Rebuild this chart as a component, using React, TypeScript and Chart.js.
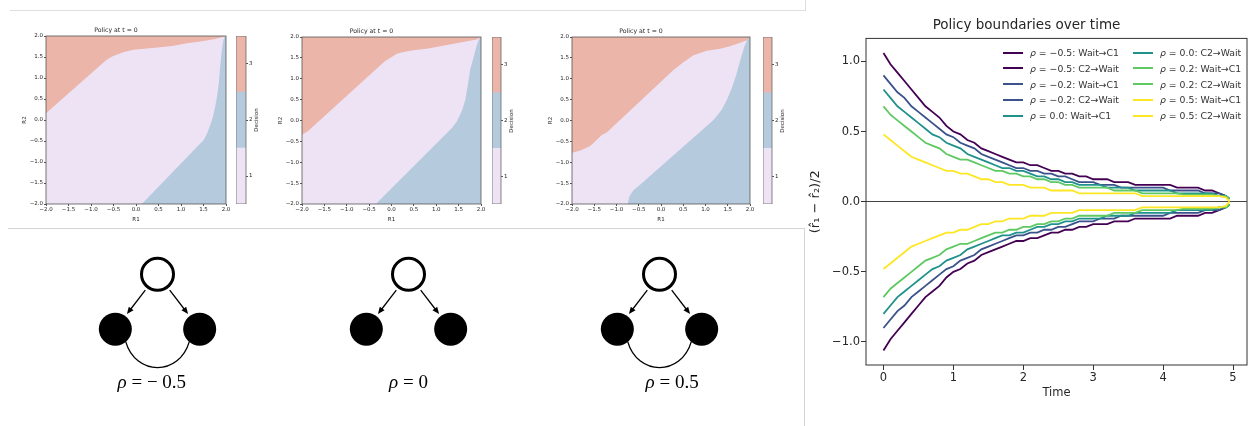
import React, { useEffect, useRef } from "react";
import { Chart, registerables } from "chart.js";

Chart.register(...registerables);

// ===================== Right panel: policy boundaries over time =====================
const TIME = [
  0, 0.1, 0.2, 0.3, 0.4, 0.5, 0.6, 0.7, 0.8, 0.9,
  1.0, 1.1, 1.2, 1.3, 1.4, 1.5, 1.6, 1.7, 1.8, 1.9,
  2.0, 2.1, 2.2, 2.3, 2.4, 2.5, 2.6, 2.7, 2.8, 2.9,
  3.0, 3.1, 3.2, 3.3, 3.4, 3.5, 3.6, 3.7, 3.8, 3.9,
  4.0, 4.1, 4.2, 4.3, 4.4, 4.5, 4.6, 4.7, 4.8, 4.9,
  4.95,
];
const RHO_VALUES = [-0.5, -0.2, 0.0, 0.2, 0.5];
const RHO_COLORS = ["#440154", "#3b528b", "#21918c", "#5ec962", "#fde725"];
const BOUNDARY_NAMES = ["Wait→C1", "C2→Wait"];

const M05_WAIT_C1 = [
  1.06, 0.98, 0.92, 0.86, 0.80, 0.74, 0.68, 0.64, 0.60, 0.54,
  0.50, 0.48, 0.44, 0.42, 0.38, 0.36, 0.34, 0.32, 0.30, 0.28,
  0.28, 0.26, 0.26, 0.24, 0.22, 0.22, 0.20, 0.20, 0.18, 0.18,
  0.16, 0.16, 0.16, 0.14, 0.14, 0.14, 0.12, 0.12, 0.12, 0.12,
  0.12, 0.12, 0.10, 0.10, 0.10, 0.10, 0.08, 0.08, 0.06, 0.04,
  0.02,
];
const M05_C2_WAIT = [
  -1.06, -0.98, -0.92, -0.86, -0.80, -0.74, -0.68, -0.64, -0.60, -0.54,
  -0.50, -0.48, -0.44, -0.42, -0.38, -0.36, -0.34, -0.32, -0.30, -0.28,
  -0.28, -0.26, -0.26, -0.24, -0.22, -0.22, -0.20, -0.20, -0.18, -0.18,
  -0.16, -0.16, -0.16, -0.14, -0.14, -0.14, -0.12, -0.12, -0.12, -0.12,
  -0.12, -0.12, -0.10, -0.10, -0.10, -0.10, -0.08, -0.08, -0.06, -0.04,
  -0.02,
];
const M02_WAIT_C1 = [
  0.90, 0.84, 0.78, 0.74, 0.68, 0.64, 0.60, 0.56, 0.52, 0.48,
  0.46, 0.42, 0.40, 0.38, 0.34, 0.32, 0.30, 0.28, 0.26, 0.24,
  0.24, 0.22, 0.22, 0.20, 0.20, 0.18, 0.18, 0.16, 0.14, 0.14,
  0.14, 0.12, 0.12, 0.12, 0.10, 0.10, 0.10, 0.10, 0.10, 0.10,
  0.10, 0.08, 0.08, 0.08, 0.08, 0.08, 0.06, 0.06, 0.06, 0.04,
  0.02,
];
const M02_C2_WAIT = [
  -0.90, -0.84, -0.78, -0.74, -0.68, -0.64, -0.60, -0.56, -0.52, -0.48,
  -0.46, -0.42, -0.40, -0.38, -0.34, -0.32, -0.30, -0.28, -0.26, -0.24,
  -0.24, -0.22, -0.22, -0.20, -0.20, -0.18, -0.18, -0.16, -0.14, -0.14,
  -0.14, -0.12, -0.12, -0.12, -0.10, -0.10, -0.10, -0.10, -0.10, -0.10,
  -0.10, -0.08, -0.08, -0.08, -0.08, -0.08, -0.06, -0.06, -0.06, -0.04,
  -0.02,
];
const P00_WAIT_C1 = [
  0.80, 0.74, 0.68, 0.64, 0.60, 0.56, 0.52, 0.48, 0.46, 0.42,
  0.40, 0.38, 0.34, 0.32, 0.30, 0.28, 0.26, 0.24, 0.24, 0.22,
  0.22, 0.20, 0.18, 0.18, 0.16, 0.16, 0.14, 0.14, 0.12, 0.12,
  0.12, 0.12, 0.10, 0.10, 0.10, 0.10, 0.08, 0.08, 0.08, 0.08,
  0.08, 0.08, 0.06, 0.06, 0.06, 0.06, 0.06, 0.06, 0.04, 0.04,
  0.02,
];
const P00_C2_WAIT = [
  -0.80, -0.74, -0.68, -0.64, -0.60, -0.56, -0.52, -0.48, -0.46, -0.42,
  -0.40, -0.38, -0.34, -0.32, -0.30, -0.28, -0.26, -0.24, -0.24, -0.22,
  -0.22, -0.20, -0.18, -0.18, -0.16, -0.16, -0.14, -0.14, -0.12, -0.12,
  -0.12, -0.12, -0.10, -0.10, -0.10, -0.10, -0.08, -0.08, -0.08, -0.08,
  -0.08, -0.08, -0.06, -0.06, -0.06, -0.06, -0.06, -0.06, -0.04, -0.04,
  -0.02,
];
const P02_WAIT_C1 = [
  0.68, 0.62, 0.58, 0.54, 0.50, 0.46, 0.42, 0.40, 0.38, 0.34,
  0.32, 0.30, 0.30, 0.28, 0.26, 0.24, 0.22, 0.22, 0.20, 0.20,
  0.18, 0.18, 0.16, 0.16, 0.14, 0.14, 0.12, 0.12, 0.10, 0.10,
  0.10, 0.10, 0.10, 0.08, 0.08, 0.08, 0.08, 0.06, 0.06, 0.06,
  0.06, 0.06, 0.06, 0.05, 0.05, 0.05, 0.05, 0.05, 0.04, 0.04,
  0.02,
];
const P02_C2_WAIT = [
  -0.68, -0.62, -0.58, -0.54, -0.50, -0.46, -0.42, -0.40, -0.38, -0.34,
  -0.32, -0.30, -0.30, -0.28, -0.26, -0.24, -0.22, -0.22, -0.20, -0.20,
  -0.18, -0.18, -0.16, -0.16, -0.14, -0.14, -0.12, -0.12, -0.10, -0.10,
  -0.10, -0.10, -0.10, -0.08, -0.08, -0.08, -0.08, -0.06, -0.06, -0.06,
  -0.06, -0.06, -0.06, -0.05, -0.05, -0.05, -0.05, -0.05, -0.04, -0.04,
  -0.02,
];
const P05_WAIT_C1 = [
  0.48, 0.44, 0.40, 0.36, 0.32, 0.30, 0.28, 0.26, 0.24, 0.22,
  0.22, 0.20, 0.20, 0.18, 0.16, 0.16, 0.14, 0.14, 0.12, 0.12,
  0.12, 0.10, 0.10, 0.10, 0.08, 0.08, 0.08, 0.08, 0.06, 0.06,
  0.06, 0.06, 0.06, 0.06, 0.06, 0.06, 0.06, 0.04, 0.04, 0.04,
  0.04, 0.04, 0.04, 0.04, 0.04, 0.04, 0.04, 0.04, 0.04, 0.03,
  0.00,
];
const P05_C2_WAIT = [
  -0.48, -0.44, -0.40, -0.36, -0.32, -0.30, -0.28, -0.26, -0.24, -0.22,
  -0.22, -0.20, -0.20, -0.18, -0.16, -0.16, -0.14, -0.14, -0.12, -0.12,
  -0.12, -0.10, -0.10, -0.10, -0.08, -0.08, -0.08, -0.08, -0.06, -0.06,
  -0.06, -0.06, -0.06, -0.06, -0.06, -0.06, -0.06, -0.04, -0.04, -0.04,
  -0.04, -0.04, -0.04, -0.04, -0.04, -0.04, -0.04, -0.04, -0.04, -0.03,
  0.00,
];
// per rho: [Wait→C1, C2→Wait]
const RHO_SERIES = [
  [M05_WAIT_C1, M05_C2_WAIT],
  [M02_WAIT_C1, M02_C2_WAIT],
  [P00_WAIT_C1, P00_C2_WAIT],
  [P02_WAIT_C1, P02_C2_WAIT],
  [P05_WAIT_C1, P05_C2_WAIT],
];
const TIME_TICKS = [0, 1, 2, 3, 4, 5];
const VALUE_TICKS = [-1.0, -0.5, 0.0, 0.5, 1.0];

// ===================== Left panel: policy heatmaps =====================
const GRID_TICKS = [-2.0, -1.5, -1.0, -0.5, 0.0, 0.5, 1.0, 1.5, 2.0];
const DECISION_LEVELS = [1, 2, 3];
const DECISION_BOUNDS = [0.5, 1.5, 2.5, 3.5];
const DECISION_COLORS = ["#ede3f4", "#b6cade", "#ebb5aa"];

// rho = -0.5
const HM1_TOP_X = [-2.0, -0.66, -0.53, -0.42, -0.27, -0.05, 0.24, 0.54, 0.84, 1.13, 1.43, 1.73, 1.91, 2.0];
const HM1_TOP_Y = [0.16, 1.43, 1.51, 1.56, 1.62, 1.67, 1.70, 1.73, 1.77, 1.83, 1.87, 1.92, 1.97, 2.0];
const HM1_BOT_X = [0.13, 1.39, 1.50, 1.58, 1.65, 1.71, 1.76, 1.80, 1.84, 1.87, 1.90, 1.93, 1.95, 1.96, 2.0];
const HM1_BOT_Y = [-2.0, -0.60, -0.48, -0.32, -0.12, 0.08, 0.32, 0.56, 0.87, 1.27, 1.59, 1.83, 1.92, 1.97, 2.0];
// rho = 0
const HM2_TOP_X = [-2.0, -1.87, -0.15, -0.03, 0.12, 0.27, 0.49, 0.79, 1.09, 1.39, 1.69, 1.91, 2.0];
const HM2_TOP_Y = [-0.34, -0.26, 1.42, 1.50, 1.60, 1.64, 1.68, 1.72, 1.78, 1.84, 1.90, 1.94, 2.0];
const HM2_BOT_X = [-0.35, 1.20, 1.35, 1.46, 1.57, 1.65, 1.70, 1.76, 1.84, 1.90, 1.95, 2.0];
const HM2_BOT_Y = [-2.0, -0.34, -0.18, -0.02, 0.22, 0.50, 0.82, 1.22, 1.54, 1.78, 1.94, 2.0];
// rho = 0.5
const HM3_TOP_X = [-2.0, -1.81, -1.59, -1.33, -1.22, 0.28, 0.51, 0.73, 1.03, 1.33, 1.55, 1.78, 1.93, 2.0];
const HM3_TOP_Y = [-0.77, -0.72, -0.61, -0.35, -0.29, 1.21, 1.40, 1.56, 1.67, 1.72, 1.78, 1.86, 1.92, 2.0];
const HM3_BOT_X = [-0.75, -0.71, -0.62, -0.47, 1.18, 1.36, 1.48, 1.59, 1.69, 1.78, 1.87, 1.94, 2.0];
const HM3_BOT_Y = [-2.0, -1.82, -1.67, -1.54, 0.01, 0.25, 0.49, 0.77, 1.09, 1.44, 1.76, 1.94, 2.0];

const HM_PANELS = [
  { topX: HM1_TOP_X, topY: HM1_TOP_Y, botX: HM1_BOT_X, botY: HM1_BOT_Y },
  { topX: HM2_TOP_X, topY: HM2_TOP_Y, botX: HM2_BOT_X, botY: HM2_BOT_Y },
  { topX: HM3_TOP_X, topY: HM3_TOP_Y, botX: HM3_BOT_X, botY: HM3_BOT_Y },
];

// ===================== Left panel: graph diagrams =====================
const GRAPH_RHO = [-0.5, 0, 0.5];
const GRAPH_SLOTS = [0.5, 1.5, 2.5];
const PARENT_LEVEL = 1;
const CHILD_LEVEL = 0;
const CHILD_SPREAD = [-0.168, 0.168];

// ===================== layout (positions, not data) =====================
const HM_LAYOUT = [
  { left: 46, right: 226, top: 36, bottom: 204, cbLeft: 236, cbRight: 246 },
  { left: 302, right: 481, top: 37, bottom: 204, cbLeft: 492, cbRight: 501 },
  { left: 572, right: 750, top: 37, bottom: 204, cbLeft: 763, cbRight: 772 },
];
const GRAPH_BOX = { left: 13, top: 229, width: 791, height: 197 };
const GRAPH_LABEL_DX = [7, 0, 0];
const MAIN_BOX = { left: 806, top: 0, width: 449, height: 426 };

const MINUS = "\u2212";
const fmt = (v: number, d: number) => (v < 0 ? MINUS : "") + Math.abs(v).toFixed(d);

const TEXT = "#262626";
const SPINE = "#333333";

// ---------- plugins ----------
const framePlugin = {
  id: "frame",
  afterDatasetsDraw(chart: any, _args: any, opts: any) {
    if (!opts || !opts.color) return;
    const { ctx, chartArea: a } = chart;
    ctx.save();
    ctx.strokeStyle = opts.color;
    ctx.lineWidth = opts.width || 1;
    ctx.strokeRect(a.left, a.top, a.right - a.left, a.bottom - a.top);
    ctx.restore();
  },
};
const areaFillPlugin = {
  id: "areaFill",
  beforeDraw(chart: any, _args: any, opts: any) {
    if (!opts || !opts.color) return;
    const { ctx, chartArea: a } = chart;
    ctx.save();
    ctx.fillStyle = opts.color;
    ctx.fillRect(a.left, a.top, a.right - a.left, a.bottom - a.top);
    ctx.restore();
  },
};
const graphEdgesPlugin = {
  id: "graphEdges",
  beforeDatasetsDraw(chart: any) {
    const xs = chart.scales.x;
    const ys = chart.scales.y;
    const ctx = chart.ctx;
    ctx.save();
    ctx.strokeStyle = "#000";
    ctx.fillStyle = "#000";
    ctx.lineWidth = 1.3;
    GRAPH_SLOTS.forEach((slot, i) => {
      const top = { x: xs.getPixelForValue(slot), y: ys.getPixelForValue(PARENT_LEVEL) };
      const kids = CHILD_SPREAD.map((o) => ({ x: xs.getPixelForValue(slot + o), y: ys.getPixelForValue(CHILD_LEVEL) }));
      kids.forEach((k) => {
        const dx = k.x - top.x;
        const dy = k.y - top.y;
        const len = Math.hypot(dx, dy);
        const ux = dx / len;
        const uy = dy / len;
        const sx = top.x + ux * 20;
        const sy = top.y + uy * 20;
        const ex = k.x - ux * 19;
        const ey = k.y - uy * 19;
        const head = 7;
        const half = 3;
        ctx.beginPath();
        ctx.moveTo(sx, sy);
        ctx.lineTo(ex - ux * head * 0.6, ey - uy * head * 0.6);
        ctx.stroke();
        ctx.beginPath();
        ctx.moveTo(ex, ey);
        ctx.lineTo(ex - ux * head - uy * half, ey - uy * head + ux * half);
        ctx.lineTo(ex - ux * head + uy * half, ey - uy * head - ux * half);
        ctx.closePath();
        ctx.fill();
      });
      if (GRAPH_RHO[i] !== 0) {
        const L = kids[0];
        const R = kids[1];
        const r = 16;
        const c = Math.cos((50 * Math.PI) / 180);
        const s = Math.sin((50 * Math.PI) / 180);
        const p0x = L.x + r * c, p0y = L.y + r * s;
        const p3x = R.x - r * c, p3y = R.y + r * s;
        ctx.beginPath();
        ctx.moveTo(p0x, p0y);
        ctx.bezierCurveTo(p0x + 10, p0y + 35, p3x - 10, p3y + 35, p3x, p3y);
        ctx.stroke();
      }
    });
    ctx.restore();
  },
};

// ---------- configs ----------
function mainConfig() {
  const datasets: any[] = [];
  RHO_VALUES.forEach((rho, r) => {
    RHO_SERIES[r].forEach((vals, b) => {
      const idx = datasets.length;
      datasets.push({
        label: `ρ = ${fmt(rho, 1)}: ${BOUNDARY_NAMES[b]}`,
        data: TIME.map((t, k) => ({ x: t, y: vals[k] })),
        borderColor: RHO_COLORS[r],
        backgroundColor: RHO_COLORS[r],
        borderWidth: 1.8,
        pointRadius: 0,
        fill: false,
        tension: 0,
        order: -idx,
      });
    });
  });
  const tickFont = { family: "DejaVu Sans", size: 11.5 };
  return {
    type: "line",
    data: { datasets },
    options: {
      responsive: false,
      animation: false,
      devicePixelRatio: 1,
      events: [],
      layout: { padding: { left: 0, right: 8, top: 0, bottom: 0 } },
      plugins: {
        legend: { display: false },
        tooltip: { enabled: false },
        title: {
          display: true,
          text: "Policy boundaries over time",
          color: TEXT,
          font: { family: "DejaVu Sans", size: 13.5, weight: "normal" },
          padding: { top: 17.6, bottom: 4.6 },
        },
        frame: { color: SPINE, width: 1 },
      },
      scales: {
        x: {
          type: "linear",
          min: -0.25,
          max: 5.2,
          afterBuildTicks: (s: any) => {
            s.ticks = TIME_TICKS.map((v) => ({ value: v }));
          },
          ticks: { font: tickFont, color: TEXT, padding: 1, maxRotation: 0, autoSkip: false, callback: (v: any) => String(v) },
          grid: { drawOnChartArea: false, drawTicks: true, tickLength: 5, color: SPINE, tickColor: SPINE },
          border: { display: false },
          title: { display: true, text: "Time", color: TEXT, font: tickFont, padding: { top: 0, bottom: 25.8 } },
          afterFit: (s: any) => {
            s.height = 61;
            s.paddingLeft = 0;
            s.paddingRight = 0;
          },
        },
        y: {
          type: "linear",
          min: -1.164,
          max: 1.164,
          afterBuildTicks: (s: any) => {
            s.ticks = VALUE_TICKS.map((v) => ({ value: v }));
          },
          ticks: { font: tickFont, color: TEXT, padding: 1, autoSkip: false, callback: (v: any) => fmt(Number(v), 1) },
          grid: {
            drawOnChartArea: true,
            drawTicks: true,
            tickLength: 5,
            tickColor: SPINE,
            lineWidth: 1,
            color: (ctx: any) => (ctx.tick && ctx.tick.value === 0 ? "#444444" : "rgba(0,0,0,0)"),
          },
          border: { display: false },
          title: {
            display: true,
            text: "(r̂₁ − r̂₂)/2",
            color: TEXT,
            font: { family: "DejaVu Sans", size: 13 },
            padding: { top: 2.2, bottom: 2.2 },
          },
          afterFit: (s: any) => {
            s.width = 60;
            s.paddingTop = 0;
            s.paddingBottom = 0;
          },
        },
      },
    },
    plugins: [framePlugin],
  };
}

const SMALL_FONT = { family: "DejaVu Sans", size: 5.5 };

function heatmapConfig(i: number) {
  const p = HM_PANELS[i];
  return {
    type: "line",
    data: {
      datasets: [
        {
          label: "Decision 3",
          data: p.topX.map((x, k) => ({ x, y: p.topY[k] })),
          fill: "end",
          backgroundColor: DECISION_COLORS[2],
          borderColor: "rgba(0,0,0,0)",
          borderWidth: 0,
          pointRadius: 0,
          tension: 0,
        },
        {
          label: "Decision 2",
          data: p.botX.map((x, k) => ({ x, y: p.botY[k] })),
          fill: "start",
          backgroundColor: DECISION_COLORS[1],
          borderColor: "rgba(0,0,0,0)",
          borderWidth: 0,
          pointRadius: 0,
          tension: 0,
        },
      ],
    },
    options: {
      responsive: false,
      animation: false,
      devicePixelRatio: 1,
      events: [],
      layout: { padding: { left: 0, right: 8, top: 0, bottom: 0 } },
      plugins: {
        legend: { display: false },
        tooltip: { enabled: false },
        title: {
          display: true,
          text: "Policy at t = 0",
          color: TEXT,
          font: { family: "DejaVu Sans", size: 6.2, weight: "normal" },
          padding: { top: 8.3, bottom: 2.26 },
        },
        areaFill: { color: DECISION_COLORS[0] },
        frame: { color: "#555555", width: 0.8 },
      },
      scales: {
        x: {
          type: "linear",
          min: -2,
          max: 2,
          afterBuildTicks: (s: any) => {
            s.ticks = GRID_TICKS.map((v) => ({ value: v }));
          },
          ticks: { font: SMALL_FONT, color: TEXT, padding: 0, maxRotation: 0, autoSkip: false, callback: (v: any) => fmt(Number(v), 1) },
          grid: { drawOnChartArea: false, drawTicks: true, tickLength: 2, color: "#555555", tickColor: "#555555" },
          border: { display: false },
          title: { display: true, text: "R1", color: TEXT, font: SMALL_FONT, padding: { top: 0, bottom: 0.7 } },
          afterFit: (s: any) => {
            s.height = 20;
            s.paddingLeft = 0;
            s.paddingRight = 0;
          },
        },
        y: {
          type: "linear",
          min: -2,
          max: 2,
          afterBuildTicks: (s: any) => {
            s.ticks = GRID_TICKS.map((v) => ({ value: v }));
          },
          ticks: { font: SMALL_FONT, color: TEXT, padding: 1, autoSkip: false, callback: (v: any) => fmt(Number(v), 1) },
          grid: { drawOnChartArea: false, drawTicks: true, tickLength: 2, color: "#555555", tickColor: "#555555" },
          border: { display: false },
          title: { display: true, text: "R2", color: TEXT, font: SMALL_FONT, padding: { top: 15.5, bottom: 0 } },
          afterFit: (s: any) => {
            s.width = 40;
            s.paddingTop = 0;
            s.paddingBottom = 0;
          },
        },
      },
    },
    plugins: [areaFillPlugin, framePlugin],
  };
}

function colorbarConfig() {
  return {
    type: "bar",
    data: {
      labels: ["Decision"],
      datasets: DECISION_LEVELS.map((d, i) => ({
        label: String(d),
        data: [[DECISION_BOUNDS[i], DECISION_BOUNDS[i + 1]]],
        backgroundColor: DECISION_COLORS[i],
        borderWidth: 0,
        grouped: false,
        barPercentage: 1,
        categoryPercentage: 1,
      })),
    },
    options: {
      responsive: false,
      animation: false,
      devicePixelRatio: 1,
      events: [],
      layout: { padding: 0 },
      plugins: {
        legend: { display: false },
        tooltip: { enabled: false },
        frame: { color: "#666666", width: 0.8 },
      },
      scales: {
        x: { display: false },
        y: {
          position: "right",
          min: DECISION_BOUNDS[0],
          max: DECISION_BOUNDS[DECISION_BOUNDS.length - 1],
          afterBuildTicks: (s: any) => {
            s.ticks = DECISION_LEVELS.map((v) => ({ value: v }));
          },
          ticks: { font: SMALL_FONT, color: TEXT, padding: 1, callback: (v: any) => String(v) },
          grid: { drawOnChartArea: false, drawTicks: true, tickLength: 2, color: "#555555", tickColor: "#555555" },
          border: { display: false },
          afterFit: (s: any) => {
            s.width = 12;
            s.paddingTop = 0;
            s.paddingBottom = 0;
          },
        },
      },
    },
    plugins: [framePlugin],
  };
}

function graphConfig() {
  return {
    type: "scatter",
    data: {
      datasets: [
        {
          label: "parent",
          data: GRAPH_SLOTS.map((s) => ({ x: s, y: PARENT_LEVEL })),
          pointRadius: 16,
          pointBorderWidth: 3,
          pointBackgroundColor: "#ffffff",
          pointBorderColor: "#000000",
          showLine: false,
        },
        {
          label: "children",
          data: GRAPH_SLOTS.flatMap((s) => CHILD_SPREAD.map((o) => ({ x: s + o, y: CHILD_LEVEL }))),
          pointRadius: 16.5,
          pointBorderWidth: 0,
          pointBackgroundColor: "#000000",
          pointBorderColor: "#000000",
          showLine: false,
        },
      ],
    },
    options: {
      responsive: false,
      animation: false,
      devicePixelRatio: 1,
      events: [],
      layout: { padding: 0 },
      plugins: { legend: { display: false }, tooltip: { enabled: false } },
      scales: {
        x: { type: "linear", display: false, min: 0, max: 3 },
        y: { type: "linear", display: false, min: -1.42, max: 1.48 },
      },
    },
    plugins: [graphEdgesPlugin],
  };
}

// ---------- components ----------
function ChartBox(props: { left: number; top: number; width: number; height: number; make: () => any }) {
  const ref = useRef<HTMLCanvasElement | null>(null);
  useEffect(() => {
    if (!ref.current) return;
    const chart = new Chart(ref.current, props.make());
    return () => chart.destroy();
  }, []);
  return (
    <canvas
      ref={ref}
      width={props.width}
      height={props.height}
      style={{ position: "absolute", left: props.left, top: props.top, width: props.width, height: props.height }}
    />
  );
}

function Legend() {
  const items: { rho: number; name: string; color: string }[] = [];
  RHO_VALUES.forEach((rho, r) => {
    BOUNDARY_NAMES.forEach((name) => items.push({ rho, name, color: RHO_COLORS[r] }));
  });
  const colX = [1003, 1133];
  const rowY0 = 52.7;
  const rowH = 15.75;
  const perCol = Math.ceil(items.length / 2);
  return (
    <>
      {items.map((it, i) => {
        const col = Math.floor(i / perCol);
        const row = i % perCol;
        const cy = rowY0 + row * rowH;
        return (
          <div
            key={i}
            style={{
              position: "absolute",
              left: colX[col],
              top: cy - 7,
              height: 14,
              display: "flex",
              alignItems: "center",
              whiteSpace: "nowrap",
              fontFamily: "DejaVu Sans",
              fontSize: 9.3,
              color: "#333",
            }}
          >
            <span style={{ display: "inline-block", width: 20, height: 2, background: it.color, marginRight: 7 }} />
            <span>
              <i>ρ</i> = {fmt(it.rho, 1)}: {it.name}
            </span>
          </div>
        );
      })}
    </>
  );
}

export default function App() {
  return (
    <div style={{ position: "fixed", left: 0, top: 0, width: 1255, height: 426, background: "#ffffff", overflow: "hidden" }}>
      {/* panel frames */}
      <div style={{ position: "absolute", left: 10, top: -2, width: 795, height: 12, borderBottom: "1px solid #dedede", borderRight: "1px solid #dedede" }} />
      <div style={{ position: "absolute", left: 8, top: 228, width: 796, height: 210, borderTop: "1px solid #d4d4d4", borderRight: "1px solid #d4d4d4" }} />

      {HM_LAYOUT.map((L, i) => (
        <React.Fragment key={i}>
          <ChartBox
            left={L.left - 40}
            top={L.top - 18}
            width={L.right - L.left + 48}
            height={L.bottom - L.top + 38}
            make={() => heatmapConfig(i)}
          />
          <ChartBox left={L.cbLeft} top={L.top} width={L.cbRight - L.cbLeft + 12} height={L.bottom - L.top} make={colorbarConfig} />
          <div
            style={{
              position: "absolute",
              left: L.cbRight + 10 - 20,
              top: (L.top + L.bottom) / 2 - 4,
              width: 40,
              height: 8,
              lineHeight: "8px",
              textAlign: "center",
              fontFamily: "DejaVu Sans",
              fontSize: 5.5,
              color: TEXT,
              transform: "rotate(-90deg)",
            }}
          >
            Decision
          </div>
        </React.Fragment>
      ))}

      <ChartBox left={GRAPH_BOX.left} top={GRAPH_BOX.top} width={GRAPH_BOX.width} height={GRAPH_BOX.height} make={graphConfig} />
      {GRAPH_RHO.map((rho, i) => {
        const cx = GRAPH_BOX.left + (GRAPH_SLOTS[i] / 3) * GRAPH_BOX.width + GRAPH_LABEL_DX[i];
        return (
          <div
            key={i}
            style={{
              position: "absolute",
              left: cx - 60,
              top: 372,
              width: 120,
              textAlign: "center",
              fontFamily: "Liberation Serif",
              fontSize: 19,
              lineHeight: "19px",
              color: "#000",
              whiteSpace: "nowrap",
            }}
          >
            <i>ρ</i> = {rho < 0 ? MINUS + " " + Math.abs(rho) : String(rho)}
          </div>
        );
      })}

      <ChartBox left={MAIN_BOX.left} top={MAIN_BOX.top} width={MAIN_BOX.width} height={MAIN_BOX.height} make={mainConfig} />
      <Legend />
    </div>
  );
}
